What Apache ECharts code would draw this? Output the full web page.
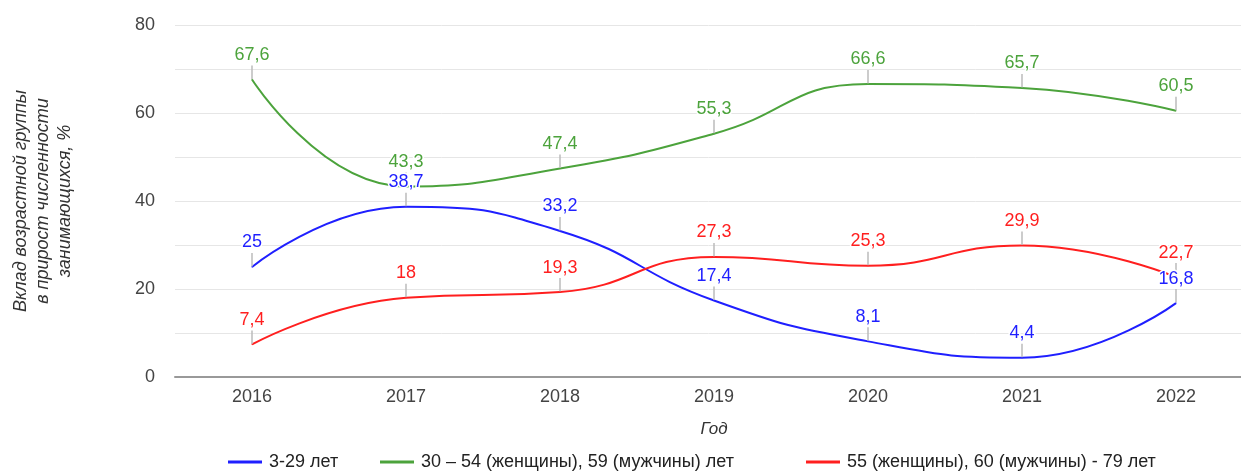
<!DOCTYPE html>
<html><head><meta charset="utf-8">
<script src="https://cdn.jsdelivr.net/npm/echarts@6/dist/echarts.min.js"></script>
<style>html,body{margin:0;padding:0;background:#fff}#c{width:1241px;height:472px}</style>
</head><body><div id="c"></div>
<script>
const years = ['2016','2017','2018','2019','2020','2021','2022'];
const young = [25, 38.7, 33.2, 17.4, 8.1, 4.4, 16.8];
const middle = [67.6, 43.3, 47.4, 55.3, 66.6, 65.7, 60.5];
const senior = [7.4, 18, 19.3, 27.3, 25.3, 29.9, 22.7];
const names = ['3-29 лет', '30 – 54 (женщины), 59 (мужчины) лет', '55 (женщины), 60 (мужчины) - 79 лет'];
const colors = ['#1f1fff', '#4ca33c', '#ff1f1f'];

const FONT = 'Liberation Sans, Arial, sans-serif';
function mk(name, data, color) {
  return {
    name, type: 'line', data, smooth: 0.5, symbol: 'circle', symbolSize: 1, showSymbol: true,
    lineStyle: { color, width: 2 }, itemStyle: { color },
    label: {
      show: true, position: 'top', distance: 1, color, fontSize: 18, fontFamily: FONT,
      textBorderColor: '#fff', textBorderWidth: 3,
      formatter: p => String(p.value).replace('.', ',')
    },
    labelLayout: { dy: -14 },
    labelLine: { show: true, lineStyle: { color: '#bbb', width: 1.5 }, length2: 0, smooth: false },
    emphasis: { disabled: true },
    z: 2
  };
}
function lg(i, left) {
  return {
    data: [names[i]], top: 453, left, itemWidth: 34, itemHeight: 3, itemGap: 0, itemStyle: { borderWidth: 0 },
    icon: 'rect', textStyle: { fontSize: 18, color: '#222', fontFamily: FONT, padding: [0, 0, 0, 2] },
    padding: 0, selectedMode: false
  };
}
const chart = echarts.init(document.getElementById('c'));
chart.setOption({
  animation: false,
  color: colors,
  grid: { left: 175, top: 25, width: 1078, height: 352, outerBoundsMode: 'none', containLabel: false },
  legend: [lg(0, 228), lg(1, 380), lg(2, 806)],
  xAxis: {
    type: 'category', data: years, boundaryGap: true,
    name: 'Год', nameLocation: 'middle', nameGap: 44,
    nameTextStyle: { fontStyle: 'italic', fontSize: 17, color: '#333', fontFamily: FONT },
    axisLine: { lineStyle: { color: '#999', width: 2 } },
    axisTick: { show: false },
    axisLabel: { fontSize: 18, color: '#444', margin: 11, fontFamily: FONT }
  },
  yAxis: {
    type: 'value', min: 0, max: 80, interval: 10,
    name: 'Вклад возрастной группы\nв прирост численности\nзанимающихся, %',
    nameLocation: 'middle', nameGap: 99, nameRotate: 90,
    nameTextStyle: { fontStyle: 'italic', fontSize: 18, color: '#333', lineHeight: 22, fontFamily: FONT },
    axisLine: { show: false }, axisTick: { show: false },
    axisLabel: { fontSize: 18, color: '#444', margin: 20, fontFamily: FONT,
      formatter: v => (v % 20 === 0 ? String(v) : '') },
    splitLine: { lineStyle: { color: '#e6e6e6', width: 1 } }
  },
  series: [mk(names[0], young, colors[0]), mk(names[1], middle, colors[1]), mk(names[2], senior, colors[2])]
});
</script></body></html>
